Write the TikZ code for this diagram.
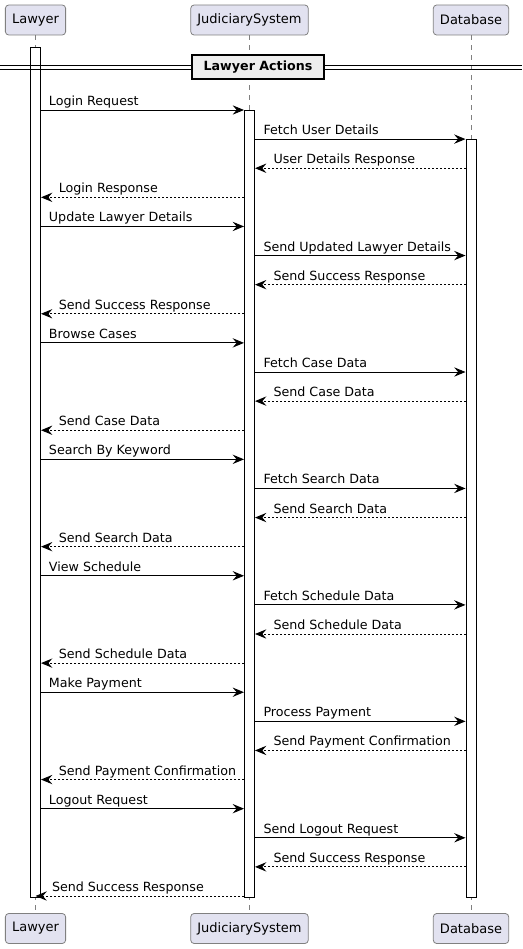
\documentclass[tikz,border=0pt]{standalone}
\usepackage{fontspec}
\setmainfont{DejaVu Sans}
\usetikzlibrary{arrows.meta}
\definecolor{partfill}{HTML}{E2E2F0}
\definecolor{partline}{HTML}{181818}
\definecolor{divfill}{HTML}{EEEEEE}
\begin{document}
\begin{tikzpicture}[x=0.75pt, y=-0.75pt,
  part/.style={draw=partline!55, fill=partfill, rounded corners=2.5pt, line width=0.6pt,
    inner xsep=5pt, minimum height=22.5pt, font=\fontsize{9.75}{11}\selectfont},
  life/.style={draw=partline!55, line width=0.5pt, dash pattern=on 3.75pt off 3.75pt},
  actbar/.style={draw=black, fill=white, line width=0.75pt, minimum width=7.5pt,
    inner sep=0pt, anchor=north},
  msg/.style={draw=black, line width=0.75pt, -{Stealth[length=8.5pt,width=7pt,inset=3pt]}},
  reply/.style={msg, dash pattern=on 1.5pt off 1.5pt},
  lbl/.style={font=\fontsize{9.5}{11}\selectfont, inner sep=0pt, anchor=base west}]
  \useasboundingbox (0,0) rectangle (522,949);

  % participants, top and bottom
  \node[part] (topL) at (35.5,20) {Lawyer};
  \node[part] (topJ) at (249.5,20) {JudiciarySystem};
  \node[part] (topD) at (471,20) {Database};
  \node[part] (botL) at (35.5,928.5) {Lawyer};
  \node[part] (botJ) at (249.5,928.5) {JudiciarySystem};
  \node[part] (botD) at (471,928.5) {Database};

  % lifelines
  \draw[life] (topL) -- (botL);
  \draw[life] (topJ) -- (botJ);
  \draw[life] (topD) -- (botD);

  % activations
  \node[actbar, minimum height=637.5pt] (aL) at (35.5,47) {};
  \node[actbar, minimum height=590.25pt] (aJ) at (249.5,110) {};
  \node[actbar, minimum height=568.5pt] (aD) at (471,139) {};

  % divider
  \draw[line width=0.75pt] (0,66) -- (522,66) (0,70) -- (522,70);
  \node[draw, line width=1.5pt, fill=divfill, minimum width=99pt, minimum height=18pt,
    font=\bfseries\fontsize{9.5}{11}\selectfont] (div) at (258,67.5) {Lawyer Actions};

  % messages, four per request
  \foreach \req/\fwd/\back/\resp [count=\g from 0] in {
      Login Request/Fetch User Details/User Details Response/Login Response,
      Update Lawyer Details/Send Updated Lawyer Details/Send Success Response/Send Success Response,
      Browse Cases/Fetch Case Data/Send Case Data/Send Case Data,
      Search By Keyword/Fetch Search Data/Send Search Data/Send Search Data,
      View Schedule/Fetch Schedule Data/Send Schedule Data/Send Schedule Data,
      Make Payment/Process Payment/Send Payment Confirmation/Send Payment Confirmation,
      Logout Request/Send Logout Request/Send Success Response/Send Success Response} {
    \pgfmathsetmacro\ya{110+4*\g*29.111}
    \pgfmathsetmacro\yb{\ya+29.111}
    \pgfmathsetmacro\yc{\ya+2*29.111}
    \pgfmathsetmacro\yd{\ya+3*29.111}
    \draw[msg] (aL.east |- 0,\ya) -- (aJ.west |- 0,\ya)
      node[lbl, pos=0, xshift=5.6pt, yshift=3.4pt] {\req};
    \draw[msg] (aJ.east |- 0,\yb) -- (aD.west |- 0,\yb)
      node[lbl, pos=0, xshift=6pt, yshift=3.4pt] {\fwd};
    \draw[reply] (aD.west |- 0,\yc) -- (aJ.east |- 0,\yc)
      node[lbl, pos=1, xshift=13.5pt, yshift=3.4pt] {\back};
    \ifnum\g=6
      \draw[reply] (aJ.west |- 0,\yd) -- (aL.center |- 0,\yd)
        node[lbl, pos=1, xshift=12pt, yshift=3.4pt] {\resp};
    \else
      \draw[reply] (aJ.west |- 0,\yd) -- (aL.east |- 0,\yd)
        node[lbl, pos=1, xshift=13pt, yshift=3.4pt] {\resp};
    \fi
  }
\end{tikzpicture}
\end{document}
